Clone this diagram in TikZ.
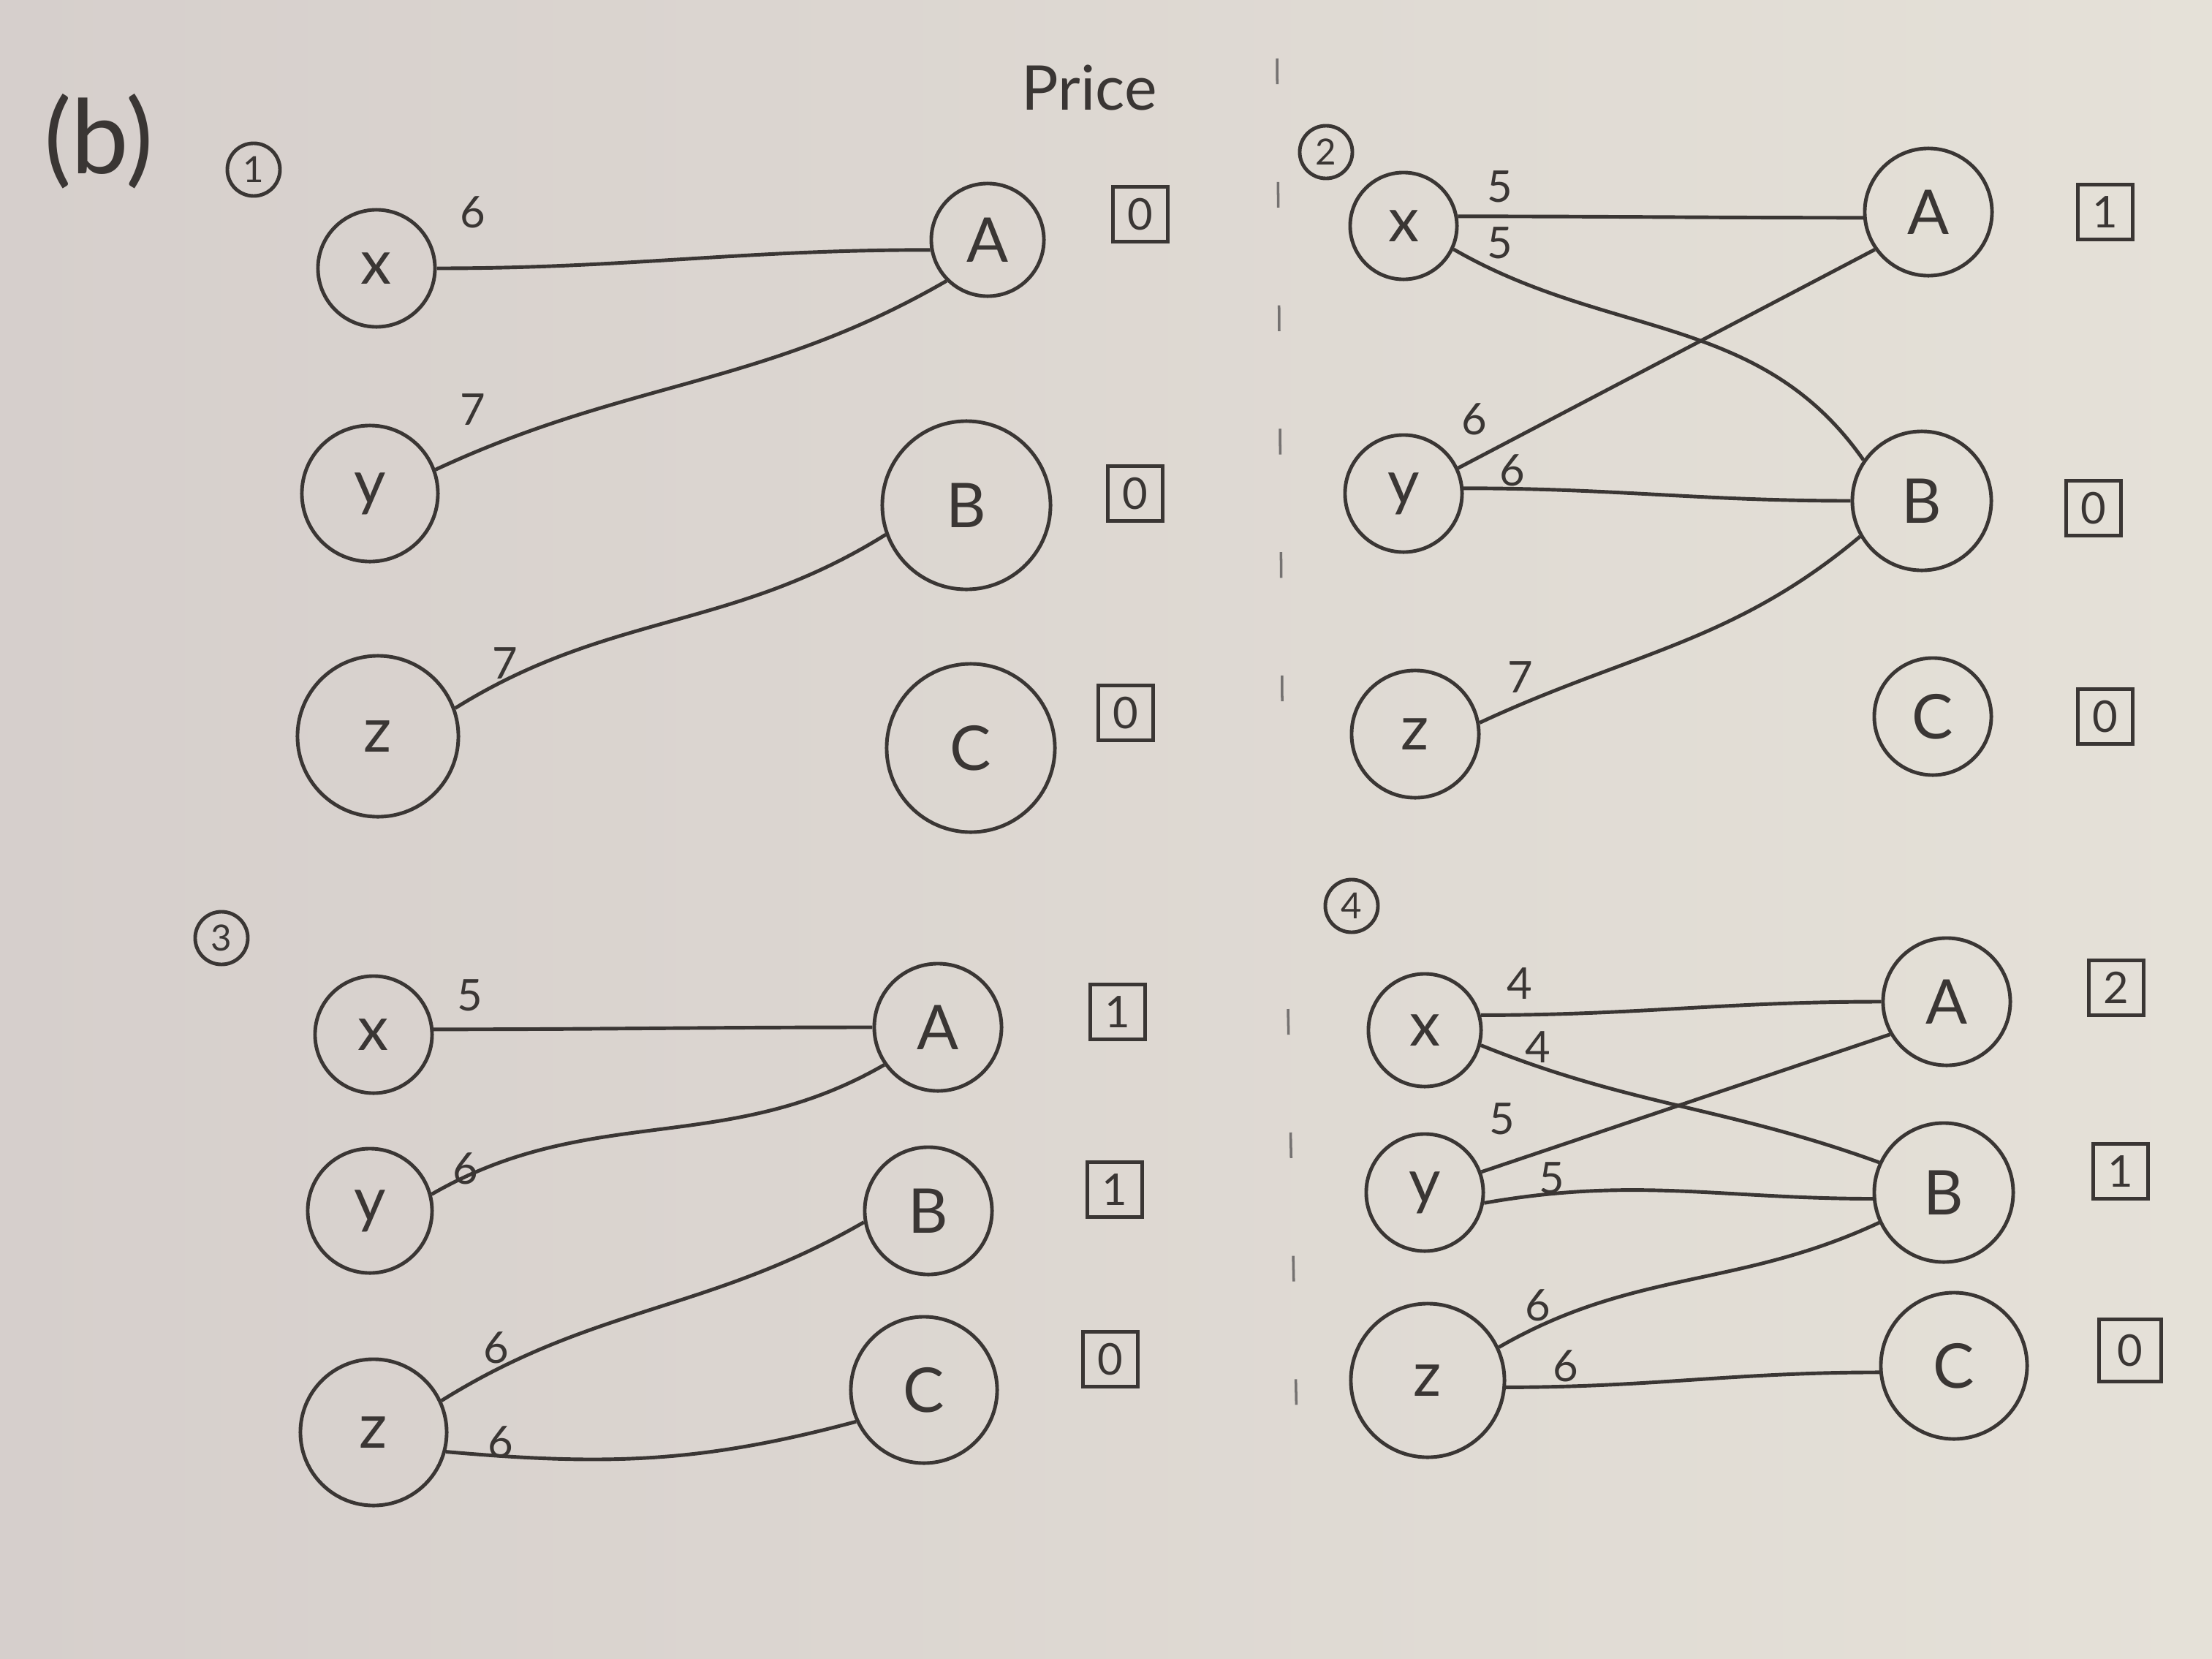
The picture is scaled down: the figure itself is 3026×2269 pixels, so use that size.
\documentclass[tikz,border=0pt]{standalone}
\usepackage{fontspec}
\setmainfont{Lato}
\definecolor{pencil}{RGB}{58,54,52}
\definecolor{paperL}{RGB}{214,207,204}
\definecolor{paperR}{RGB}{229,225,216}
\newcommand{\vfont}{\fontsize{24}{28}\selectfont}
\newcommand{\lfont}{\fontsize{17}{20}\selectfont}
\newcommand{\pfont}{\fontsize{17}{20}\selectfont}
\newcommand{\sfont}{\fontsize{14}{16}\selectfont}
\tikzset{
  pen/.style={draw=pencil, line width=1.4pt},
  vtx/.style={pen, circle, inner sep=0pt, text=pencil, font=\vfont},
  pricebox/.style={pen, rectangle, minimum size=0.75cm, inner sep=0pt, text=pencil, font=\pfont},
  wlabel/.style={font=\lfont, text=pencil, inner sep=1pt},
  stepnum/.style={pen, circle, minimum size=0.72cm, inner sep=0pt, text=pencil, font=\sfont},
  conn/.style={pen},
  sep/.style={draw=pencil!70, line width=1pt, dash pattern=on 10pt off 38pt}
}
\begin{document}
\begin{tikzpicture}[x=0.01cm, y=-0.01cm]
\shade[left color=paperL, right color=paperR] (0,0) rectangle (3026,2269);
\useasboundingbox (0,0) rectangle (3026,2269);

% headings
\node[text=pencil, font=\fontsize{40}{44}\selectfont] (blabel) at (135,193) {(b)};
\node[text=pencil, font=\fontsize{24}{28}\selectfont] (price) at (1490,120) {Price};

% separators
\coordinate (s1) at (1747,80);
\coordinate (s2) at (1755,1080);
\coordinate (s3) at (1762,1380);
\coordinate (s4) at (1775,2000);
\draw[sep] (s1) -- (s2);
\draw[sep] (s3) -- (s4);

% ---------- Panel 1 ----------
\node[stepnum] (n1) at (347,232) {1};
\node[vtx, minimum size=1.6cm]  (x1) at (515,367) {x};
\node[vtx, minimum size=1.86cm] (y1) at (506,675) {y};
\node[vtx, minimum size=2.2cm]  (z1) at (517,1007) {z};
\node[vtx, minimum size=1.54cm] (A1) at (1351,328) {A};
\node[vtx, minimum size=2.3cm]  (B1) at (1322,691) {B};
\node[vtx, minimum size=2.3cm]  (C1) at (1328,1023) {C};
\node[pricebox] (pA1) at (1560,293) {0};
\node[pricebox] (pB1) at (1553,675) {0};
\node[pricebox] (pC1) at (1540,975) {0};
\draw[conn] (x1) to[out=0,in=180] (A1.190);
\draw[conn] (y1.20) to[out=25,in=210] (A1.225);
\draw[conn] (z1.20) to[out=32,in=212] (B1.200);
\node[wlabel] (w1a) at (647,290) {6};
\node[wlabel] (w1b) at (647,560) {7};
\node[wlabel] (w1c) at (691,907) {7};

% ---------- Panel 2 ----------
\node[stepnum] (n2) at (1814,208) {2};
\node[vtx, minimum size=1.46cm] (x2) at (1920,309) {x};
\node[vtx, minimum size=1.6cm]  (y2) at (1920,675) {y};
\node[vtx, minimum size=1.74cm] (z2) at (1936,1004) {z};
\node[vtx, minimum size=1.74cm] (A2) at (2638,290) {A};
\node[vtx, minimum size=1.9cm]  (B2) at (2629,685) {B};
\node[vtx, minimum size=1.6cm]  (C2) at (2644,980) {C};
\node[pricebox] (pA2) at (2880,290) {1};
\node[pricebox] (pB2) at (2864,695) {0};
\node[pricebox] (pC2) at (2880,980) {0};
\draw[conn] (x2.10) to[out=0,in=180] (A2.185);
\draw[conn] (x2.-25) to[out=-30,in=125] (B2.145);
\draw[conn] (y2.25) -- (A2.215);
\draw[conn] (y2.5) to[out=0,in=180] (B2.180);
\draw[conn] (z2.10) to[out=25,in=220] (B2.210);
\node[wlabel] (w2a) at (2052,255) {5};
\node[wlabel] (w2b) at (2052,332) {5};
\node[wlabel] (w2c) at (2017,573) {6};
\node[wlabel] (w2d) at (2069,643) {6};
\node[wlabel] (w2e) at (2080,926) {7};

% ---------- Panel 3 ----------
\node[stepnum] (n3) at (303,1283) {3};
\node[vtx, minimum size=1.6cm]  (x3) at (511,1415) {x};
\node[vtx, minimum size=1.7cm]  (y3) at (506,1656) {y};
\node[vtx, minimum size=2.0cm]  (z3) at (511,1959) {z};
\node[vtx, minimum size=1.74cm] (A3) at (1283,1405) {A};
\node[vtx, minimum size=1.74cm] (B3) at (1270,1656) {B};
\node[vtx, minimum size=2.0cm]  (C3) at (1264,1901) {C};
\node[pricebox] (pA3) at (1529,1384) {1};
\node[pricebox] (pB3) at (1525,1627) {1};
\node[pricebox] (pC3) at (1519,1859) {0};
\draw[conn] (x3.5) to[out=0,in=180] (A3.180);
\draw[conn] (y3.15) to[out=30,in=210] (A3.215);
\draw[conn] (z3.25) to[out=32,in=210] (B3.190);
\draw[conn] (z3.-15) to[out=-5,in=195] (C3.205);
\node[wlabel] (w3a) at (643,1361) {5};
\node[wlabel] (w3b) at (637,1598) {6};
\node[wlabel] (w3c) at (679,1843) {6};
\node[wlabel] (w3d) at (685,1972) {6};

% ---------- Panel 4 ----------
\node[stepnum] (n4) at (1849,1239) {4};
\node[vtx, minimum size=1.54cm] (x4) at (1949,1409) {x};
\node[vtx, minimum size=1.6cm]  (y4) at (1949,1631) {y};
\node[vtx, minimum size=2.1cm]  (z4) at (1953,1888) {z};
\node[vtx, minimum size=1.74cm] (A4) at (2663,1370) {A};
\node[vtx, minimum size=1.9cm]  (B4) at (2659,1631) {B};
\node[vtx, minimum size=2.0cm]  (C4) at (2673,1868) {C};
\node[pricebox] (pA4) at (2895,1351) {2};
\node[pricebox] (pB4) at (2901,1602) {1};
\node[pricebox, minimum size=0.85cm] (pC4) at (2914,1847) {0};
\draw[conn] (x4.15) to[out=0,in=180] (A4.180);
\draw[conn] (x4.-15) to[out=-22,in=160] (B4.155);
\draw[conn] (y4.20) -- (A4.210);
\draw[conn] (y4.-10) to[out=10,in=180] (B4.185);
\draw[conn] (z4.25) to[out=30,in=205] (B4.205);
\draw[conn] (z4.-5) to[out=0,in=180] (C4.185);
\node[wlabel] (w4a) at (2079,1345) {4};
\node[wlabel] (w4b) at (2104,1432) {4};
\node[wlabel] (w4c) at (2055,1530) {5};
\node[wlabel] (w4d) at (2123,1611) {5};
\node[wlabel] (w4e) at (2104,1785) {6};
\node[wlabel] (w4f) at (2142,1868) {6};
\end{tikzpicture}
\end{document}
